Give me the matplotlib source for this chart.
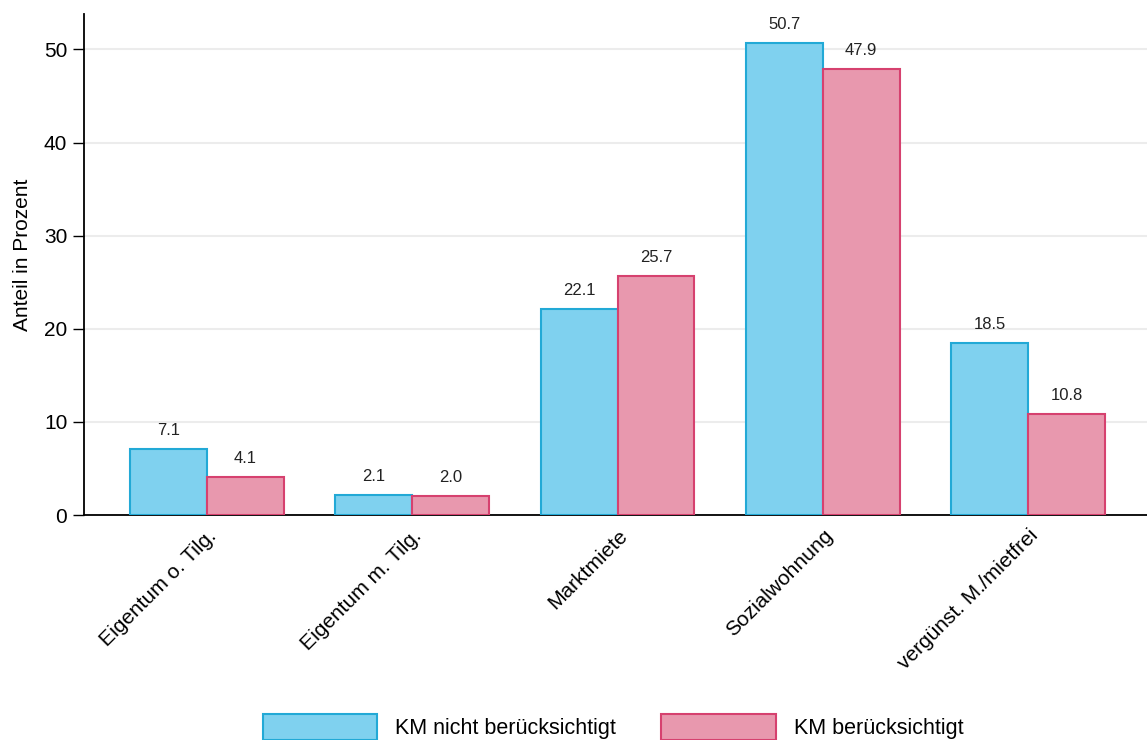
import matplotlib
matplotlib.use("Agg")
import matplotlib.pyplot as plt
import numpy as np

plt.rcParams['font.family'] = ['Liberation Sans', 'DejaVu Sans']

# Wohnstatus, Anteile in Prozent
categories = ["Eigentum o. Tilg.", "Eigentum m. Tilg.", "Marktmiete",
              "Sozialwohnung", "vergünst. M./mietfrei"]
km_nicht = [7.1, 2.1, 22.1, 50.7, 18.5]
km_ber = [4.1, 2.0, 25.7, 47.9, 10.8]
series_names = ["KM nicht berücksichtigt", "KM berücksichtigt"]

fig = plt.figure(figsize=(11.47, 7.40), dpi=100)
ax = fig.add_axes([0.0732, 0.304, 0.9268, 0.677])

x = np.arange(len(categories))
w = 0.375
b1 = ax.bar(x - w/2, km_nicht, w, color="#7fd1ef", edgecolor="#22a9d6",
            linewidth=1.5, label=series_names[0], zorder=3)
b2 = ax.bar(x + w/2, km_ber, w, color="#e898ae", edgecolor="#d6416f",
            linewidth=1.5, label=series_names[1], zorder=3)
ax.bar_label(b1, fmt="%.1f", padding=8, fontsize=12, color="#222222")
ax.bar_label(b2, fmt="%.1f", padding=8, fontsize=12, color="#222222")

ax.set_xlim(-0.6, 4.58)
ax.set_ylim(0, 53.8)
ax.set_yticks([0, 10, 20, 30, 40, 50])
ax.yaxis.grid(True, color="#ececec", linewidth=1.5, zorder=0)
ax.set_axisbelow(True)
ax.tick_params(axis='y', labelsize=15, length=8, width=1, pad=4)
ax.tick_params(axis='x', length=0, labelsize=15, pad=8)
ax.set_xticks(x)
ax.set_xticklabels(categories, rotation=45, ha='right', rotation_mode='anchor')
ax.set_ylabel("Anteil in Prozent", fontsize=15)
ax.yaxis.set_label_coords(-0.049, 0.52)

for s in ["top", "right"]:
    ax.spines[s].set_visible(False)
ax.spines["left"].set_linewidth(1.3)
ax.spines["bottom"].set_linewidth(1.3)

fig.legend(handles=[b1, b2], labels=series_names, loc="center left",
           bbox_to_anchor=(263/1147, 1 - 727/740), ncol=2, frameon=False,
           fontsize=15.5, borderpad=0, borderaxespad=0,
           handlelength=5.3, handleheight=1.5, columnspacing=2.1, handletextpad=0.85)

fig.savefig("out.png", dpi=100)
